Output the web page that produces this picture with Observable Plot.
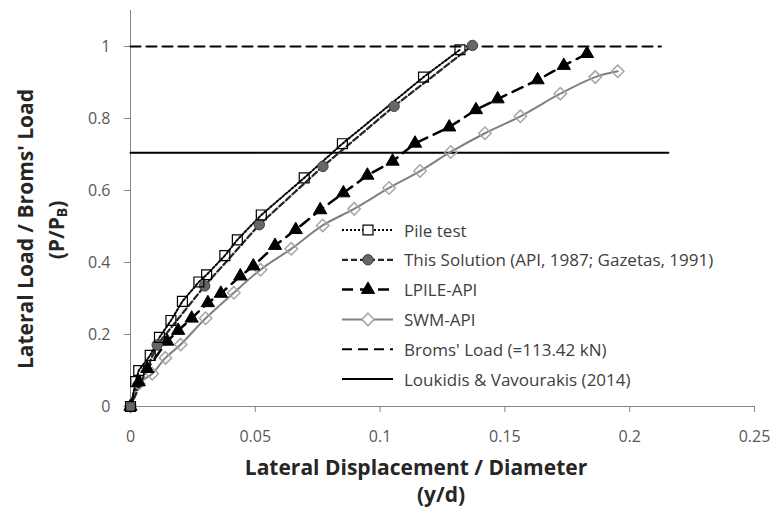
<!DOCTYPE html>
<html>
<head>
<meta charset="utf-8">
<script src="https://cdn.jsdelivr.net/npm/d3@7"></script>
<script src="https://cdn.jsdelivr.net/npm/@observablehq/plot@0.6"></script>
<style>
  html, body { margin: 0; padding: 0; background: #fff; }
  #wrap { position: relative; width: 771px; height: 511px; font-family: "Open Sans", sans-serif; }
  #wrap > svg { position: absolute; left: 0; top: 0; }
  #overlay { pointer-events: none; }
</style>
</head>
<body>
<div id="wrap"></div>
<script>
// ---- Data ----
const pileX = [0, 0.0021, 0.0033, 0.0079, 0.0116, 0.0162, 0.0208, 0.0274, 0.0305, 0.0378, 0.0428, 0.0524, 0.0696, 0.0849, 0.1174, 0.132];
const pileY = [0, 0.069, 0.100, 0.142, 0.192, 0.239, 0.292, 0.346, 0.366, 0.419, 0.463, 0.532, 0.635, 0.730, 0.915, 0.991];

const solX = [0, 0.0107, 0.0297, 0.0516, 0.0771, 0.1056, 0.137];
const solY = [0, 0.171, 0.335, 0.505, 0.667, 0.834, 1.003];

const lpileX = [0, 0.0033, 0.0067, 0.0147, 0.0191, 0.0245, 0.031, 0.0362, 0.044, 0.0492, 0.0579, 0.0662, 0.076, 0.0853, 0.0949, 0.105, 0.114, 0.1277, 0.1384, 0.1471, 0.1631, 0.1736, 0.1829];
const lpileY = [0, 0.068, 0.105, 0.181, 0.211, 0.245, 0.288, 0.314, 0.362, 0.390, 0.447, 0.491, 0.546, 0.593, 0.642, 0.681, 0.731, 0.776, 0.824, 0.854, 0.907, 0.947, 0.980];

const swmX = [0, 0.0033, 0.0087, 0.014, 0.0201, 0.0301, 0.0414, 0.0521, 0.0644, 0.077, 0.0896, 0.1036, 0.116, 0.1283, 0.142, 0.1562, 0.1722, 0.1862, 0.1952];
const swmY = [0, 0.063, 0.091, 0.135, 0.172, 0.245, 0.316, 0.380, 0.438, 0.503, 0.549, 0.607, 0.654, 0.707, 0.759, 0.806, 0.869, 0.915, 0.931];

const bromsX = [0, 0.2125];
const bromsY = [1, 1];
const loukX = [0, 0.2155];
const loukY = [0.705, 0.705];

const xTicks = [0, 0.05, 0.1, 0.15, 0.2, 0.25];
const yTicks = [0, 0.2, 0.4, 0.6, 0.8, 1];
const xDomain = [0, 0.25];
const yDomain = [0, 1.1];

const seriesNames = ["Pile test", "This Solution (API, 1987; Gazetas, 1991)", "LPILE-API", "SWM-API", "Broms' Load (=113.42 kN)", "Loukidis & Vavourakis (2014)"];
const xTitle = ["Lateral Displacement / Diameter", "(y/d)"];
const yTitle = ["Lateral Load / Broms' Load", "(P/P", "B", ")"];

const rows = (xs, ys) => xs.map((x, i) => ({x, y: ys[i]}));
const pile = rows(pileX, pileY), sol = rows(solX, solY), lpile = rows(lpileX, lpileY), swm = rows(swmX, swmY);
const broms = rows(bromsX, bromsY), louk = rows(loukX, loukY);

const fmt = d => String(d);

const chart = Plot.plot({
  width: 771,
  height: 511,
  marginLeft: 130,
  marginRight: 17,
  marginTop: 10,
  marginBottom: 105,
  style: {fontFamily: "'Open Sans', sans-serif", fontSize: "16px", background: "white", overflow: "visible"},
  x: {domain: xDomain},
  y: {domain: yDomain},
  marks: [
    Plot.axisX({ticks: xTicks, tickFormat: fmt, tickSize: 6, tickPadding: 18, stroke: "#868686", fill: "#595959", label: null, fontSize: 16}),
    Plot.axisY({ticks: yTicks, tickFormat: fmt, tickSize: 6, tickPadding: 14, stroke: "#868686", fill: "#595959", label: null, fontSize: 16}),
    Plot.ruleY([0], {stroke: "#868686", strokeWidth: 1}),
    Plot.ruleX([0], {y1: yDomain[0], y2: yDomain[1], stroke: "#868686", strokeWidth: 1}),
    Plot.line(broms, {x: "x", y: "y", stroke: "black", strokeWidth: 2, strokeDasharray: "10,6"}),
    Plot.line(louk, {x: "x", y: "y", stroke: "black", strokeWidth: 2}),
    Plot.line(swm, {x: "x", y: "y", stroke: "#808080", strokeWidth: 2, curve: "catmull-rom"}),
    Plot.line(lpile, {x: "x", y: "y", stroke: "black", strokeWidth: 2.5, strokeDasharray: "11,7"}),
    Plot.line(sol, {x: "x", y: "y", stroke: "#262626", strokeWidth: 2.25, strokeDasharray: "6,3"}),
    Plot.line(pile, {x: "x", y: "y", stroke: "black", strokeWidth: 2, strokeDasharray: "2,2"}),
    Plot.dot(swm, {x: "x", y: "y", symbol: "diamond2", r: 5.6, stroke: "#a6a6a6", strokeWidth: 1.5, fill: "none"}),
    Plot.dot(lpile, {x: "x", y: "y", symbol: "triangle", r: 4.9, stroke: "black", strokeWidth: 1, fill: "black"}),
    Plot.dot(sol, {x: "x", y: "y", symbol: "circle", r: 5.2, stroke: "#404040", strokeWidth: 1, fill: "#666666"}),
    Plot.dot(pile, {x: "x", y: "y", symbol: "square", r: 5.6, stroke: "black", strokeWidth: 1.2, fill: "none"})
  ]
});
document.getElementById("wrap").appendChild(chart);

// ---- Overlay: axis titles and legend ----
const ov = d3.select("#wrap").append("svg").attr("id", "overlay")
  .attr("width", 771).attr("height", 511)
  .style("font-family", "'Open Sans', sans-serif");

// X title
ov.append("text").attr("x", 416).attr("y", 467).attr("text-anchor", "middle").attr("dominant-baseline", "central")
  .attr("font-size", 21).attr("font-weight", "bold").attr("fill", "#262626").text(xTitle[0]);
ov.append("text").attr("x", 441).attr("y", 494).attr("text-anchor", "middle").attr("dominant-baseline", "central")
  .attr("font-size", 21).attr("font-weight", "bold").attr("fill", "#262626").text(xTitle[1]);

// Y title
ov.append("text").attr("transform", "translate(25,229) rotate(-90)").attr("text-anchor", "middle")
  .attr("dominant-baseline", "central").attr("font-size", 21).attr("font-weight", "bold").attr("fill", "#262626").text(yTitle[0]);
const yt2 = ov.append("text").attr("transform", "translate(56,230) rotate(-90)").attr("text-anchor", "middle")
  .attr("dominant-baseline", "central").attr("font-size", 21).attr("font-weight", "bold").attr("fill", "#262626");
yt2.append("tspan").text(yTitle[1]);
yt2.append("tspan").attr("font-size", 14).attr("dy", 5).text(yTitle[2]);
yt2.append("tspan").attr("dy", -5).text(yTitle[3]);

// Legend
const lg = ov.append("g");
const styles = [
  {stroke: "black", w: 2, dash: "2,2", sym: "square"},
  {stroke: "#262626", w: 2.25, dash: "6,3", sym: "circle"},
  {stroke: "black", w: 2.5, dash: "11,7", sym: "triangle"},
  {stroke: "#808080", w: 2, dash: null, sym: "diamond"},
  {stroke: "black", w: 2, dash: "10,6", sym: null},
  {stroke: "black", w: 2, dash: null, sym: null}
];
const symGen = {
  square: d3.symbol(d3.symbolSquare, Math.PI * 5.6 * 5.6),
  circle: d3.symbol(d3.symbolCircle, Math.PI * 5.2 * 5.2),
  triangle: d3.symbol(d3.symbolTriangle, Math.PI * 4.9 * 4.9),
  diamond: d3.symbol(d3.symbolDiamond2, Math.PI * 5.6 * 5.6)
};
seriesNames.forEach((name, i) => {
  const cy = 230 + i * 29.8;
  const s = styles[i];
  const ln = lg.append("line").attr("x1", 342).attr("x2", 393).attr("y1", cy).attr("y2", cy)
    .attr("stroke", s.stroke).attr("stroke-width", s.w);
  if (s.dash) ln.attr("stroke-dasharray", s.dash);
  if (s.sym) {
    const p = lg.append("path").attr("d", symGen[s.sym]()).attr("transform", `translate(368,${cy})`);
    if (s.sym === "square") p.attr("fill", "white").attr("stroke", "black").attr("stroke-width", 1.2);
    if (s.sym === "circle") p.attr("fill", "#666666").attr("stroke", "#404040");
    if (s.sym === "triangle") p.attr("fill", "black").attr("stroke", "black");
    if (s.sym === "diamond") p.attr("fill", "white").attr("stroke", "#a6a6a6").attr("stroke-width", 1.5);
  }
  lg.append("text").attr("x", 404).attr("y", cy).attr("dominant-baseline", "central")
    .attr("font-size", 17).attr("fill", "#404040").text(name);
});
</script>
</body>
</html>
